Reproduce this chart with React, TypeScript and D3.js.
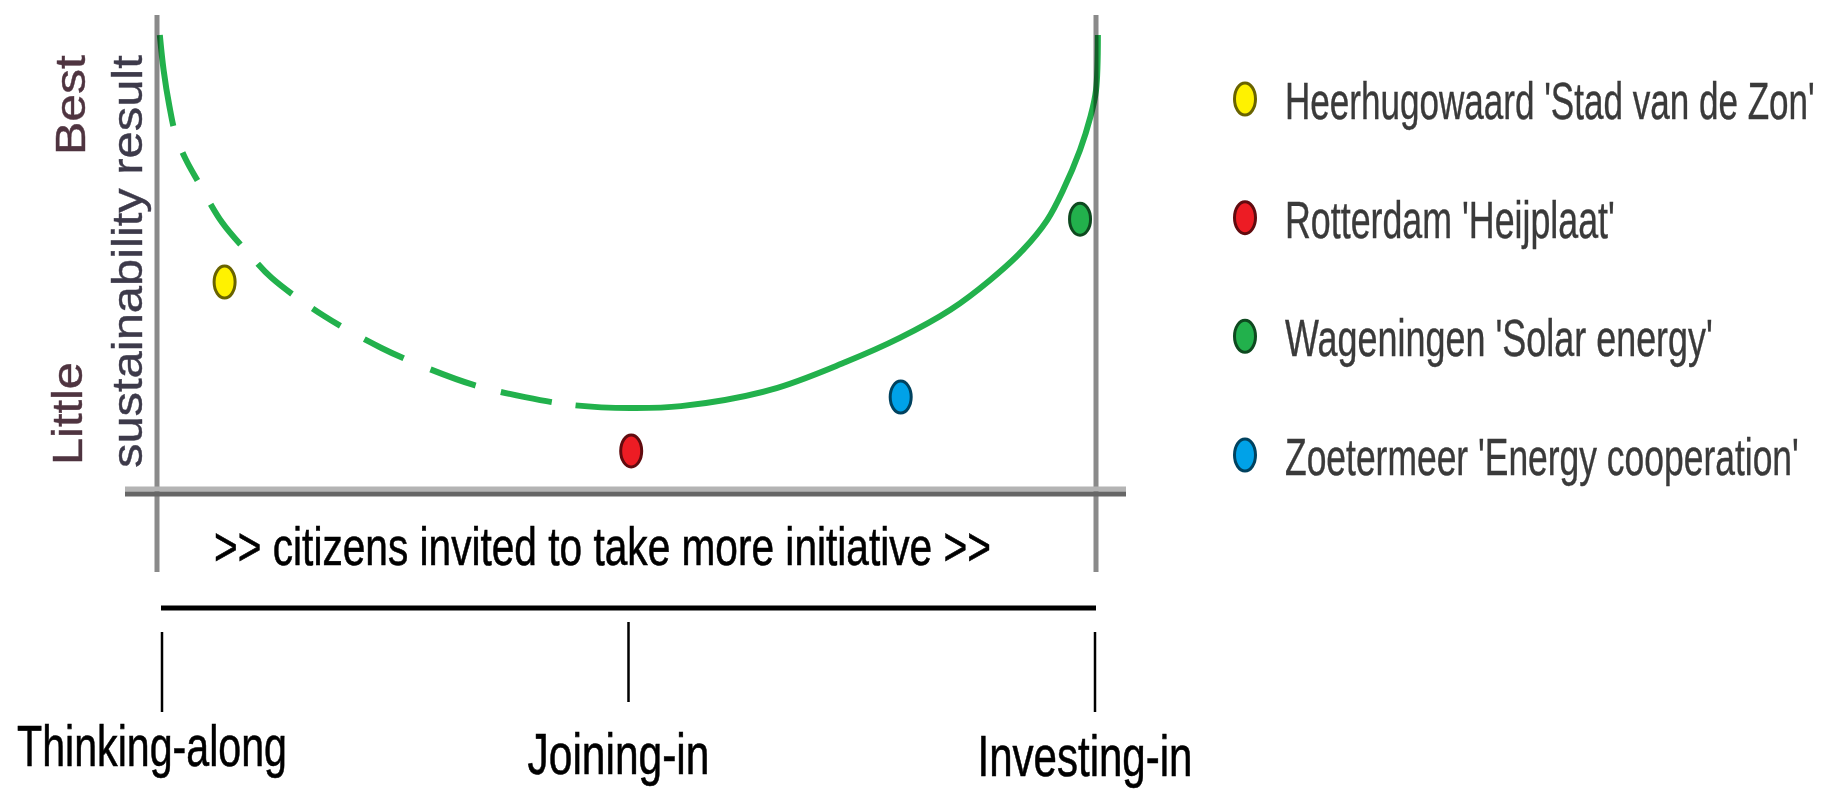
import * as d3 from "d3";
import { useCallback } from "react";

// participation curve (x: 0..100 across the frame, y: 0 little .. 100 best)
const curveX = [0.3, 0.7, 1.3, 2.0, 3.1, 4.4, 6.9, 9.9, 12.2, 17.8, 23.9, 29.0, 33.8, 39.2, 44.4, 50.4, 55.8, 65.3, 73.4, 79.1, 84.5, 88.7, 92.2, 94.8, 96.5, 98.3, 99.4, 100, 100.2];
const curveY = [95.8, 88.5, 81.1, 74.8, 69.6, 65.0, 56.6, 49.7, 44.9, 36.9, 30.2, 25.8, 22.4, 19.9, 18.2, 17.6, 18.0, 21.4, 27.3, 32.3, 38.2, 44.4, 50.7, 57.0, 63.3, 71.7, 78.6, 84.2, 95.8];

// case studies
const cases = [
  "Heerhugowaard 'Stad van de Zon'",
  "Rotterdam 'Heijplaat'",
  "Wageningen 'Solar energy'",
  "Zoetermeer 'Energy cooperation'",
];
const caseX = [7.2, 50.5, 98.3, 79.2];
const caseY = [44.0, 8.6, 57.2, 19.9];
const caseColors = ["#fff200", "#ed1c24", "#22b14c", "#00a2e8"];

const stages = ["Thinking-along", "Joining-in", "Investing-in"];
const axisTitle = ">> citizens invited to take more initiative >>";

// layout bits (pixels)
const W = 1826;
const H = 790;
const FONT = "'Liberation Sans', Arial, sans-serif";
const caseTextWidths = [530, 330, 428, 514];
const stageTextWidths = [270, 182, 215];
const stageBaselines = [766, 774, 776];
const stageTickTops = [632, 622, 632];
const stageTickLen = 80;
// the dashed part of the curve, then one long solid dash
const curveDashes = "92 28 32 27 50 26 46 25 33 27 44 29 48 26 52 24 3000";

type Sel = d3.Selection<SVGGElement, unknown, null, undefined>;

// condensed text: natural glyphs squeezed horizontally to a target width
function squeezed(
  parent: Sel,
  label: string,
  tx: number,
  ty: number,
  width: number,
  size: number,
  color: string,
  rotate = 0,
  weight = 0.5
) {
  const g = parent.append("g");
  const t = g
    .append("text")
    .attr("font-family", FONT)
    .attr("font-size", size)
    .attr("fill", color)
    .attr("stroke", color)
    .attr("stroke-width", weight)
    .text(label);
  const natural = (t.node() as SVGTextElement).getComputedTextLength() || width;
  const k = width / natural;
  g.attr("transform", `translate(${tx},${ty}) rotate(${rotate}) scale(${k},1)`);
  return g;
}

export default function App() {
  const renderChart = useCallback((node: SVGSVGElement | null) => {
    if (!node) return;
    d3.select(node).selectAll("*").remove();
    const svg = d3.select(node).append("g") as Sel;

    const x = d3.scaleLinear().domain([0, 100]).range([157, 1096]);
    const y = d3.scaleLinear().domain([0, 100]).range([492, 15]);

    const pts = curveX.map((v, i) => [v, curveY[i]] as [number, number]);
    const line = d3
      .line<[number, number]>()
      .x((d) => x(d[0]))
      .y((d) => y(d[1]))
      .curve(d3.curveCatmullRom.alpha(0.5));

    // green curve
    svg
      .append("path")
      .datum(pts)
      .attr("d", line)
      .attr("fill", "none")
      .attr("stroke", "#22b14c")
      .attr("stroke-width", 6)
      .attr("stroke-dasharray", curveDashes);

    // frame: two vertical lines + two-tone baseline (multiply so the curve darkens)
    const frame = svg.append("g").style("mix-blend-mode", "multiply");
    [0, 100].forEach((v) => {
      frame
        .append("line")
        .attr("x1", x(v))
        .attr("x2", x(v))
        .attr("y1", 15)
        .attr("y2", 572)
        .attr("stroke", "#8a8a8a")
        .attr("stroke-width", 5);
    });
    frame
      .append("line")
      .attr("x1", 125)
      .attr("x2", 1126)
      .attr("y1", y(0) - 3)
      .attr("y2", y(0) - 3)
      .attr("stroke", "#b4b4b4")
      .attr("stroke-width", 5);
    frame
      .append("line")
      .attr("x1", 125)
      .attr("x2", 1126)
      .attr("y1", y(0) + 2)
      .attr("y2", y(0) + 2)
      .attr("stroke", "#666")
      .attr("stroke-width", 5);

    // case dots
    svg
      .selectAll("ellipse.case")
      .data(cases)
      .enter()
      .append("ellipse")
      .attr("class", "case")
      .attr("cx", (_, i) => x(caseX[i]))
      .attr("cy", (_, i) => y(caseY[i]))
      .attr("rx", 10.5)
      .attr("ry", 16)
      .attr("fill", (_, i) => caseColors[i])
      .attr("stroke", (_, i) => d3.color(caseColors[i])!.darker(2.5).formatHex())
      .attr("stroke-width", 3);

    // y-axis labels
    squeezed(svg, "Best", 85, 155, 100, 42, "#4f3440", -90, 0.4);
    squeezed(svg, "Little", 82, 465, 103, 42, "#4f3440", -90, 0.4);
    squeezed(svg, "sustainability result", 142, 468, 413, 43, "#3d3a4a", -90, 0.4);

    // x-axis caption
    squeezed(svg, axisTitle, 214, 565, 777, 53, "#000", 0, 0.6);

    // participation ladder
    const sx = d3.scalePoint<string>().domain(stages).range([162, 1095]);
    svg
      .append("line")
      .attr("x1", 161)
      .attr("x2", 1096)
      .attr("y1", 608)
      .attr("y2", 608)
      .attr("stroke", "#000")
      .attr("stroke-width", 5);
    svg
      .selectAll("line.stage")
      .data(stages)
      .enter()
      .append("line")
      .attr("class", "stage")
      .attr("x1", (d) => sx(d)!)
      .attr("x2", (d) => sx(d)!)
      .attr("y1", (_, i) => stageTickTops[i])
      .attr("y2", (_, i) => stageTickTops[i] + stageTickLen)
      .attr("stroke", "#000")
      .attr("stroke-width", 2.5);
    stages.forEach((d, i) => {
      squeezed(
        svg,
        d,
        sx(d)! - 10 - stageTextWidths[i] / 2,
        stageBaselines[i],
        stageTextWidths[i],
        57,
        "#000",
        0,
        0.6
      );
    });

    // legend
    const ly = d3.scalePoint<string>().domain(cases).range([99, 455]);
    cases.forEach((d, i) => {
      svg
        .append("ellipse")
        .attr("cx", 1245)
        .attr("cy", ly(d)!)
        .attr("rx", 10.5)
        .attr("ry", 16)
        .attr("fill", caseColors[i])
        .attr("stroke", d3.color(caseColors[i])!.darker(2.5).formatHex())
        .attr("stroke-width", 3);
      squeezed(svg, d, 1285, ly(d)! + 20, caseTextWidths[i], 52, "#3a3a3a", 0, 0.4);
    });
  }, []);

  return (
    <svg
      ref={renderChart}
      width={W}
      height={H}
      style={{ position: "absolute", left: 0, top: 0, background: "#fff" }}
    />
  );
}
